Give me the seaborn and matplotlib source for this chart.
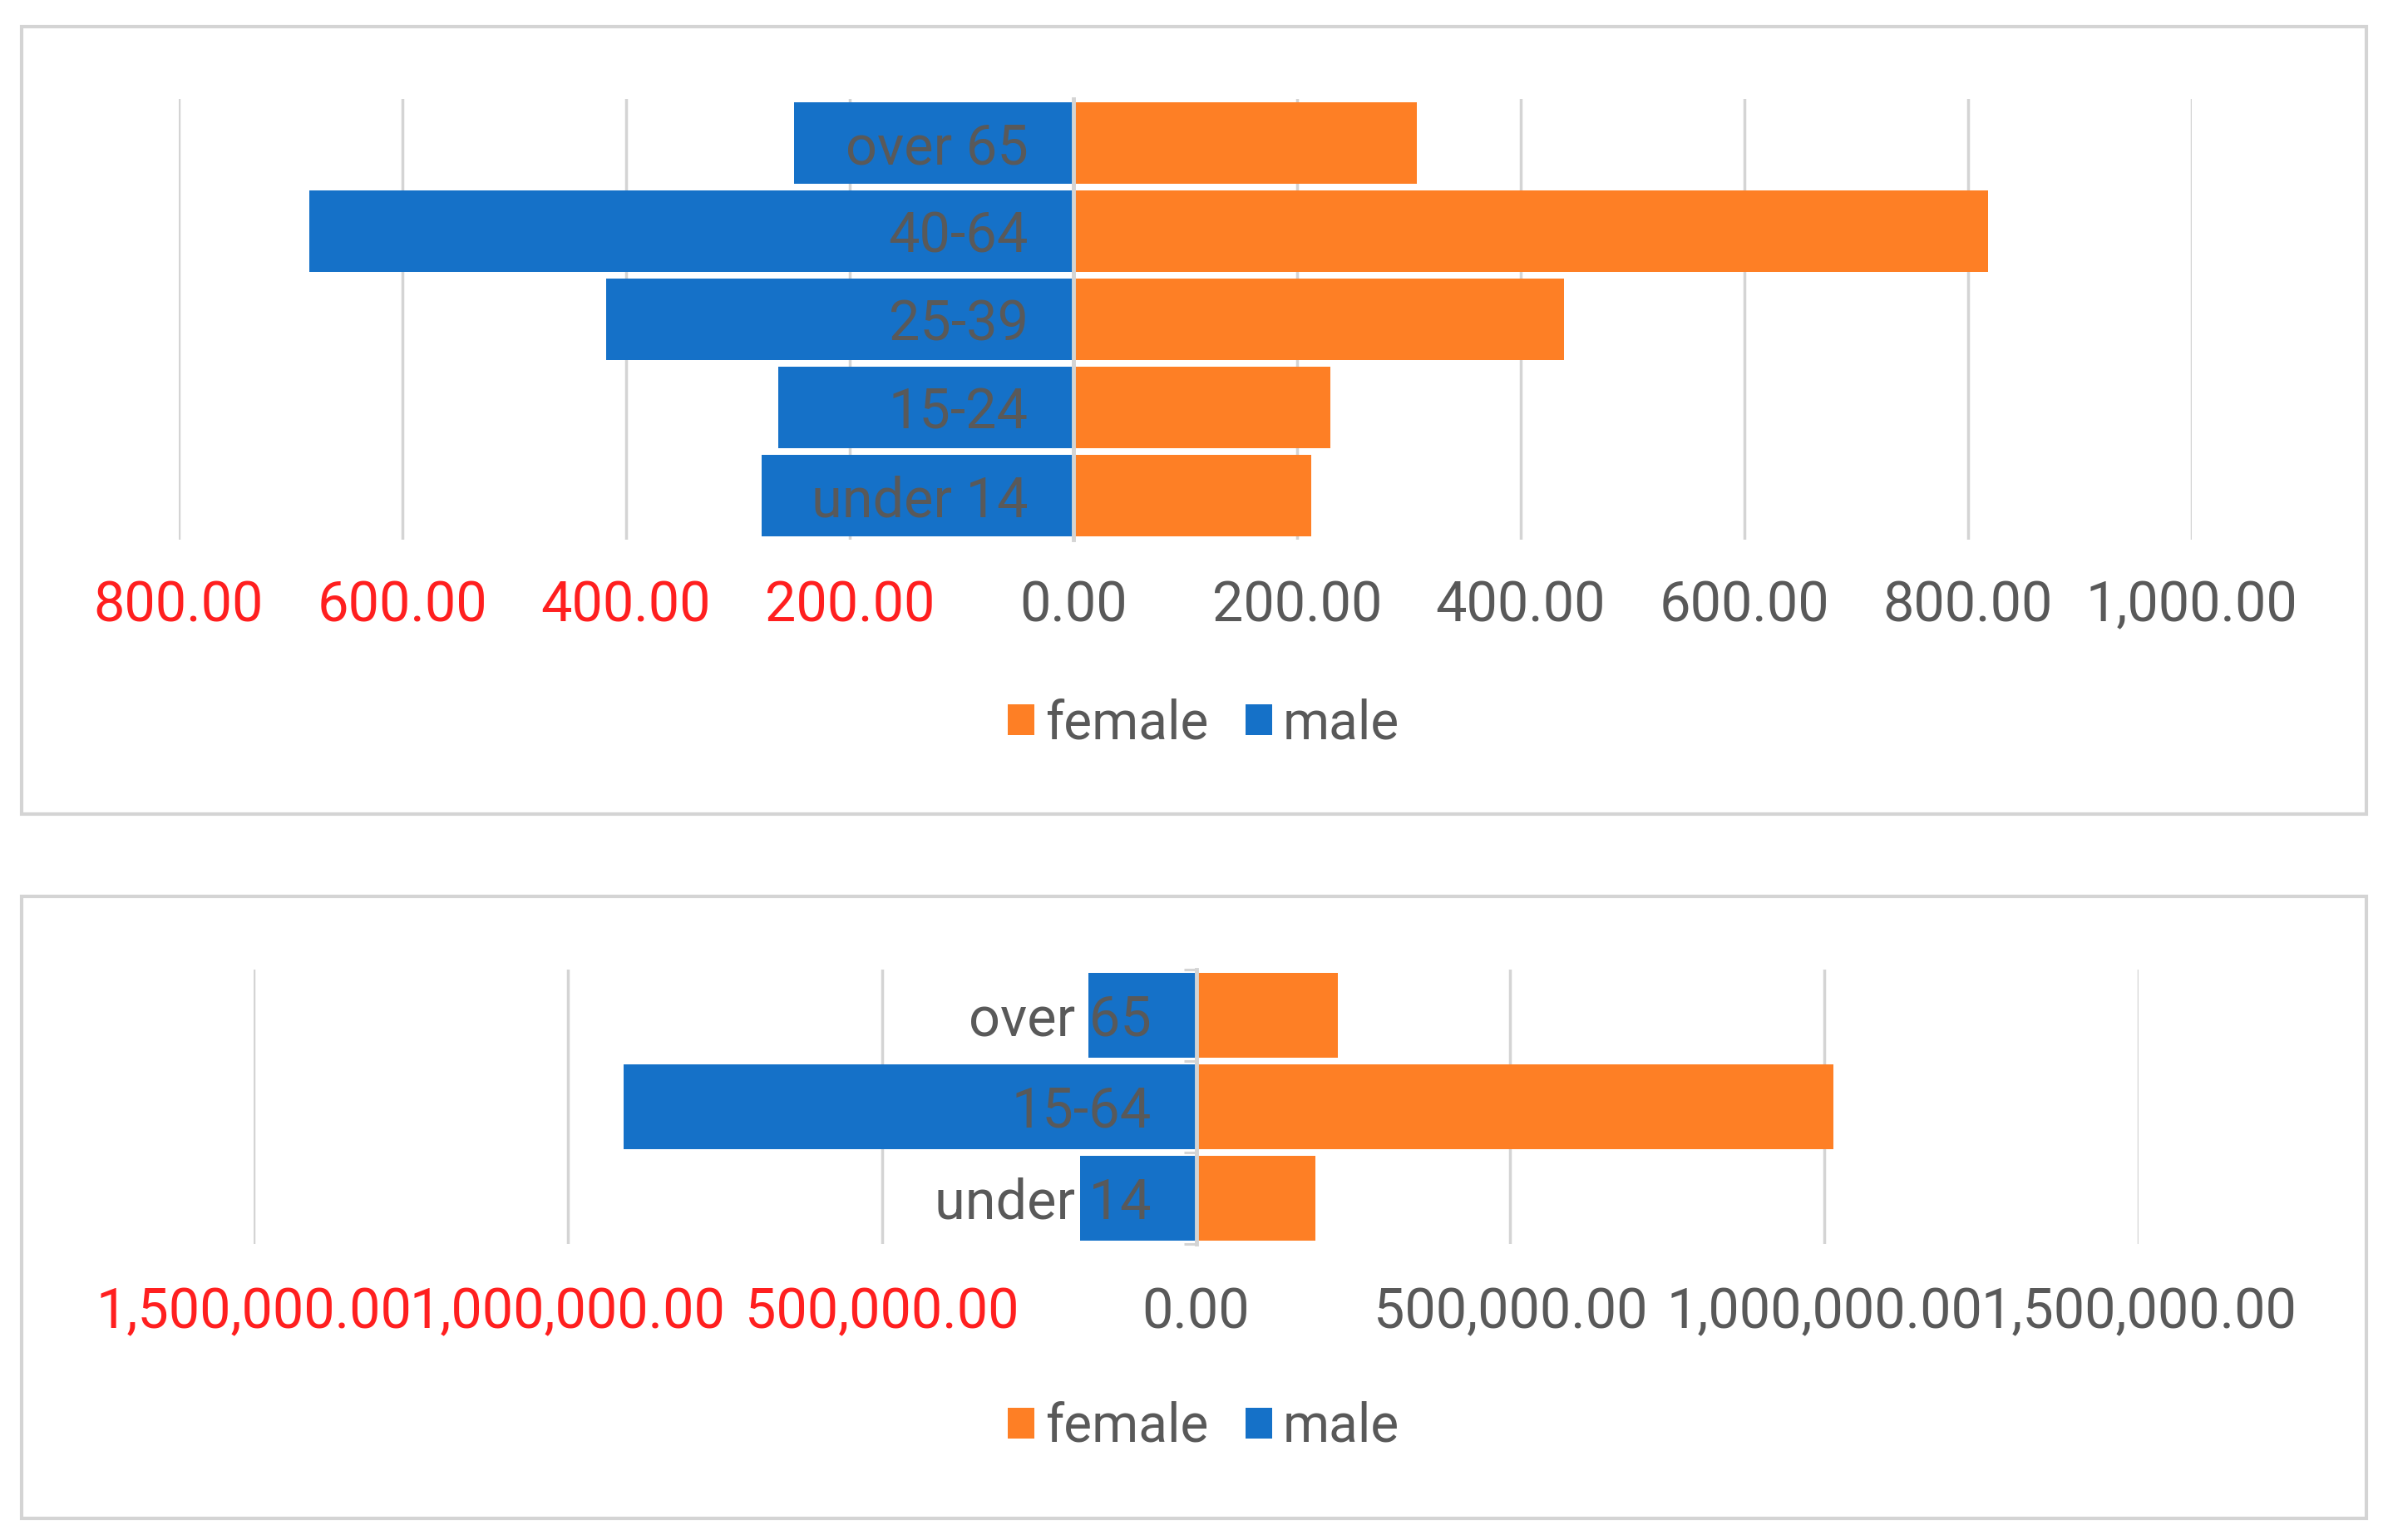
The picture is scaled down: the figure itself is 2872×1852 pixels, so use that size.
import matplotlib
matplotlib.use("Agg")
import matplotlib.pyplot as plt
import matplotlib.patches as mpatches
import seaborn as sns
import pandas as pd

# ---------------- data ----------------
ages_top = ["over 65", "40-64", "25-39", "15-24", "under 14"]
male_top = [250, 683, 418, 264, 279]
female_top = [307, 818, 439, 230, 213]
ticks_top = [-800, -600, -400, -200, 0, 200, 400, 600, 800, 1000]

ages_bot = ["over 65", "15-64", "under 14"]
male_bot = [172000, 911000, 185000]
female_bot = [225000, 1014000, 190000]
ticks_bot = [-1500000, -1000000, -500000, 0, 500000, 1000000, 1500000]

sex_order = ["female", "male"]
colors = {"female": "#FE7F25", "male": "#1571C8"}
GRAY = "#595959"
RED = "#FF1F1F"
GRID = "#D4D4D4"

plt.rcParams["font.family"] = ["Roboto", "Liberation Sans", "DejaVu Sans"]
plt.rcParams["font.weight"] = "normal"

W, H = 2872, 1852
fig = plt.figure(figsize=(W / 100, H / 100), dpi=100)


def frac_box(x0, y0, x1, y1):
    return [x0 / W, 1 - y1 / H, (x1 - x0) / W, (y1 - y0) / H]


def build(ages, male, female):
    rows = []
    for a, m, f in zip(ages, male, female):
        rows.append({"age": a, "sex": "female", "value": f})
        rows.append({"age": a, "sex": "male", "value": -m})
    return pd.DataFrame(rows)


def draw(ax, ages, male, female, ticks, lim, pad_x, boundary_ticks, legend_y):
    df = build(ages, male, female)
    sns.barplot(data=df, y="age", x="value", hue="sex", order=ages,
                hue_order=sex_order, palette=colors, dodge=False,
                errorbar=None, width=0.92, orient="h", ax=ax, saturation=1)
    ax.set_xlim(*lim)
    ax.set_ylim(len(ages) - 0.5, -0.5)
    ax.set_xlabel("")
    ax.set_ylabel("")
    ax.set_xticks(ticks, labels=[f"{abs(t):,.2f}" for t in ticks])
    for lab, t in zip(ax.get_xticklabels(), ticks):
        lab.set_color(RED if t < 0 else GRAY)
    ax.tick_params(axis="x", length=0, pad=pad_x, labelsize=48)
    ax.tick_params(axis="y", which="major", length=0, pad=39, labelsize=48,
                   labelcolor=GRAY)
    ax.grid(axis="x", color=GRID, linewidth=2.5)
    ax.grid(axis="y", visible=False)
    for s in ["top", "right", "bottom"]:
        ax.spines[s].set_visible(False)
    ax.spines["left"].set_position(("data", 0))
    ax.spines["left"].set_color(GRID)
    ax.spines["left"].set_linewidth(3.5)
    ax.spines["left"].set_zorder(2.5)
    ax.set_facecolor("none")
    ax.xaxis.set_zorder(0.5)
    ax.yaxis.set_zorder(3)
    if boundary_ticks:
        ax.set_yticks([i - 0.5 for i in range(len(ages) + 1)], minor=True)
        ax.tick_params(axis="y", which="minor", length=11, width=2.2,
                       color=GRID, direction="out")
    handles = [mpatches.Patch(facecolor=colors[s], edgecolor="none") for s in sex_order]
    leg = ax.legend(handles, sex_order, loc="center",
                    bbox_to_anchor=(0.504, legend_y), bbox_transform=fig.transFigure,
                    ncol=2, frameon=False, fontsize=46, handlelength=0.5,
                    handleheight=0.5, handletextpad=0.2, columnspacing=0.7,
                    borderpad=0)
    for t in leg.get_texts():
        t.set_color(GRAY)


# frames
for (x0, y0, x1, y1) in [(26, 32, 2846, 979), (26, 1078, 2846, 1826)]:
    fig.add_artist(mpatches.Rectangle((x0 / W, 1 - y1 / H), (x1 - x0) / W,
                                      (y1 - y0) / H, transform=fig.transFigure,
                                      facecolor="white", edgecolor=GRID,
                                      linewidth=3, zorder=-1))

ax1 = fig.add_axes(frac_box(215, 119, 2636, 649))
draw(ax1, ages_top, male_top, female_top, ticks_top, (-800, 1000), 35, False,
     1 - 870 / H)

ax2 = fig.add_axes(frac_box(305, 1166, 2572, 1496))
draw(ax2, ages_bot, male_bot, female_bot, ticks_bot, (-1500000, 1500000), 37,
     True, 1 - 1716 / H)

fig.savefig("out.png", dpi=100)
